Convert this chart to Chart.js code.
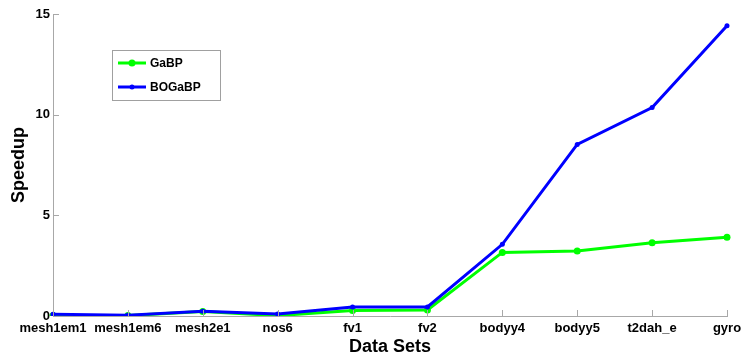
<!DOCTYPE html>
<html>
<head>
<meta charset="utf-8">
<script src="https://cdn.jsdelivr.net/npm/chart.js@4.4.1/dist/chart.umd.min.js"></script>
<style>
  html, body { margin: 0; padding: 0; background: #fff; }
  #wrap { width: 743px; height: 362px; position: relative; }
</style>
</head>
<body>
<div id="wrap"><canvas id="c" width="743" height="362"></canvas></div>
<script>
// Data sets and measured speedups
const dataSets = ['mesh1em1', 'mesh1em6', 'mesh2e1', 'nos6', 'fv1', 'fv2', 'bodyy4', 'bodyy5', 't2dah_e', 'gyro'];
const gabpSpeedup = [0.02, 0.02, 0.22, 0.02, 0.27, 0.30, 3.16, 3.23, 3.64, 3.91];
const bogabpSpeedup = [0.09, 0.04, 0.24, 0.10, 0.45, 0.45, 3.56, 8.52, 10.35, 14.42];
const yTicks = [0, 5, 10, 15];

const AXIS_GRAY = '#a8a8a8';

// Small inward tick marks on both axes
const inwardTicks = {
  id: 'inwardTicks',
  afterDraw(chart) {
    const ctx = chart.ctx;
    const x = chart.scales.x, y = chart.scales.y;
    ctx.save();
    ctx.strokeStyle = AXIS_GRAY;
    ctx.lineWidth = 1;
    ctx.beginPath();
    dataSets.forEach((_, i) => {
      const px = Math.round(x.getPixelForValue(i)) + 0.5;
      ctx.moveTo(px, y.bottom);
      ctx.lineTo(px, y.bottom - 6);
    });
    yTicks.forEach(v => {
      const py = Math.round(y.getPixelForValue(v)) + 0.5;
      ctx.moveTo(x.left, py);
      ctx.lineTo(x.left + 6, py);
    });
    ctx.stroke();
    ctx.restore();
  }
};

// Boxed legend inside the plot
const boxLegend = {
  id: 'boxLegend',
  afterDraw(chart) {
    const ctx = chart.ctx;
    const bx = 112, by = 50, bw = 108, bh = 50;
    ctx.save();
    ctx.fillStyle = '#fff';
    ctx.fillRect(bx, by, bw, bh);
    ctx.strokeStyle = '#a0a0a0';
    ctx.lineWidth = 1;
    ctx.strokeRect(bx + 0.5, by + 0.5, bw, bh);
    const rows = [63, 87];
    chart.data.datasets.forEach((ds, i) => {
      const ry = rows[i];
      ctx.strokeStyle = ds.borderColor;
      ctx.lineWidth = 3;
      ctx.beginPath();
      ctx.moveTo(118, ry);
      ctx.lineTo(146, ry);
      ctx.stroke();
      ctx.fillStyle = ds.borderColor;
      ctx.beginPath();
      ctx.arc(132, ry, ds.pointRadius, 0, Math.PI * 2);
      ctx.fill();
      ctx.fillStyle = '#000';
      ctx.font = 'bold 12px "Liberation Sans", Arial, sans-serif';
      ctx.textBaseline = 'middle';
      ctx.textAlign = 'left';
      ctx.fillText(ds.label, 150, ry + 0.5);
    });
    ctx.restore();
  }
};

const tickFont = { family: '"Liberation Sans", Arial, sans-serif', size: 13, weight: 'bold' };
const titleFont = { family: '"Liberation Sans", Arial, sans-serif', size: 18, weight: 'bold' };

new Chart(document.getElementById('c'), {
  type: 'line',
  data: {
    labels: dataSets,
    datasets: [
      {
        label: 'GaBP',
        data: gabpSpeedup,
        borderColor: '#00ff00',
        backgroundColor: '#00ff00',
        borderWidth: 3,
        pointRadius: 3.5,
        pointBorderWidth: 0,
        tension: 0,
        order: 2
      },
      {
        label: 'BOGaBP',
        data: bogabpSpeedup,
        borderColor: '#0000ff',
        backgroundColor: '#0000ff',
        borderWidth: 3,
        pointRadius: 2.5,
        pointBorderWidth: 0,
        tension: 0,
        order: 1
      }
    ]
  },
  options: {
    responsive: false,
    animation: false,
    devicePixelRatio: 1,
    layout: { padding: { left: 8, right: 16, top: 14, bottom: 4 } },
    plugins: {
      legend: { display: false },
      tooltip: { enabled: false }
    },
    scales: {
      x: {
        type: 'category',
        offset: false,
        grid: { display: false, drawTicks: false },
        border: { display: true, color: AXIS_GRAY, width: 1 },
        ticks: { color: '#000', font: tickFont, padding: 5, maxRotation: 0, autoSkip: false },
        title: { display: true, text: 'Data Sets', color: '#000', font: titleFont, padding: { top: 2, bottom: 0 } },
        afterFit(scale) { scale.height = 42; scale.paddingRight = 0; scale.paddingLeft = 0; }
      },
      y: {
        min: 0,
        max: 15,
        grid: { display: false, drawTicks: false },
        border: { display: true, color: AXIS_GRAY, width: 1 },
        ticks: { color: '#000', font: tickFont, padding: 3, stepSize: 5, callback: v => yTicks.includes(v) ? String(v) : null },
        title: { display: true, text: 'Speedup', color: '#000', font: titleFont, padding: { top: 0, bottom: 6 } },
        afterFit(scale) { scale.width = 45; scale.paddingTop = 0; scale.paddingBottom = 0; }
      }
    }
  },
  plugins: [inwardTicks, boxLegend]
});
</script>
</body>
</html>
